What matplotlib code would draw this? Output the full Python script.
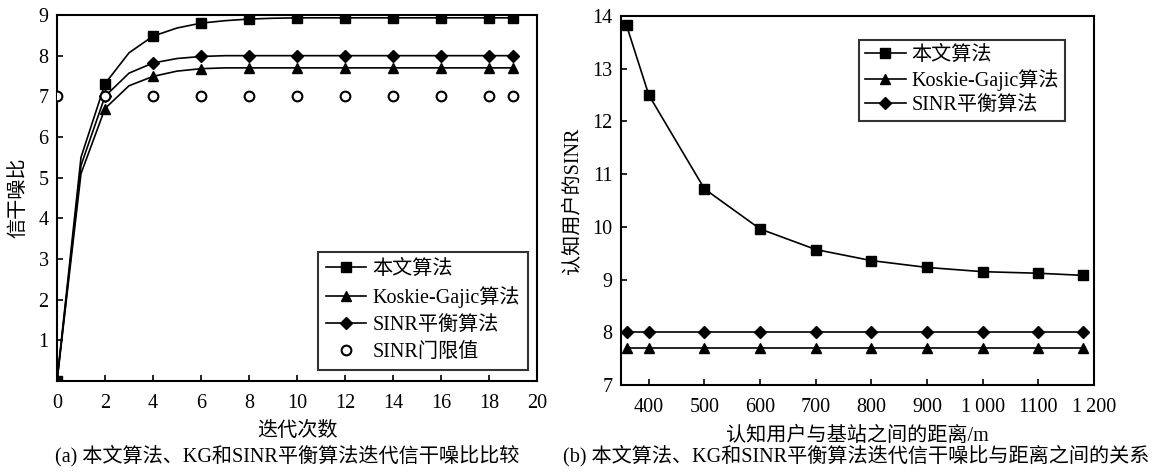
import matplotlib
matplotlib.use("Agg")
import matplotlib.pyplot as plt

plt.rcParams["font.family"] = ["Liberation Serif", "Noto Sans CJK SC", "DejaVu Sans"]
plt.rcParams["axes.unicode_minus"] = False

# (a) iteration comparison
iters = list(range(20))
ours_iter = [0.0, 5.5, 7.31, 8.07, 8.48, 8.68, 8.8, 8.86, 8.9, 8.92,
             8.93, 8.93, 8.93, 8.93, 8.93, 8.93, 8.93, 8.93, 8.93, 8.93]
kg_iter = [0.0, 5.1, 6.7, 7.26, 7.49, 7.62, 7.68, 7.7, 7.7, 7.7,
           7.7, 7.7, 7.7, 7.7, 7.7, 7.7, 7.7, 7.7, 7.7, 7.7]
bal_iter = [0.0, 5.3, 7.0, 7.57, 7.82, 7.93, 7.98, 8.0, 8.0, 8.0,
            8.0, 8.0, 8.0, 8.0, 8.0, 8.0, 8.0, 8.0, 8.0, 8.0]
thr_x = [0, 2, 4, 6, 8, 10, 12, 14, 16, 18, 19]
thr_y = [7, 7, 7, 7, 7, 7, 7, 7, 7, 7, 7]
mark_idx = [0, 2, 4, 6, 8, 10, 12, 14, 16, 18, 19]

# (b) distance comparison
dist = [360, 400, 500, 600, 700, 800, 900, 1000, 1100, 1180]
ours_dist = [13.82, 12.5, 10.72, 9.96, 9.57, 9.36, 9.23, 9.15, 9.12, 9.08]
kg_dist = [7.7] * len(dist)
bal_dist = [8.0] * len(dist)
dist_ticks = [400, 500, 600, 700, 800, 900, 1000, 1100, 1200]
dist_labels = ["400", "500", "600", "700", "800", "900", "1\u2009000", "1100", "1\u2009200"]

names = ["本文算法", "Koskie-Gajic算法", "SINR平衡算法", "SINR门限值"]

fig = plt.figure(figsize=(11.54, 4.74), dpi=100)
ax1 = fig.add_axes([57 / 1154, 93 / 474, 480 / 1154, 366 / 474])
ax2 = fig.add_axes([621 / 1154, 89 / 474, 473 / 1154, 369 / 474])

line_kw = dict(color="black", linewidth=1.2, markerfacecolor="black", markeredgecolor="black")

ax1.plot(iters, ours_iter, marker="s", markersize=7, markevery=mark_idx, label=names[0], **line_kw)
ax1.plot(iters, kg_iter, marker="^", markersize=7.5, markevery=mark_idx, label=names[1], **line_kw)
ax1.plot(iters, bal_iter, marker="D", markersize=6, markevery=mark_idx, label=names[2], **line_kw)
ax1.plot(thr_x, thr_y, linestyle="none", marker="o", markersize=7, markerfacecolor="white",
         markeredgecolor="black", markeredgewidth=1.5, label=names[3], zorder=5)
ax1.set_xlim(0, 20)
ax1.set_ylim(0, 9)
ax1.set_xticks(range(0, 21, 2))
ax1.set_yticks(range(1, 10))
ax1.set_xlabel("迭代次数", fontsize=14.5, labelpad=7)
ax1.set_ylabel("信干噪比", fontsize=14.5, labelpad=7)

ax2.plot(dist, ours_dist, marker="s", markersize=7, label=names[0], **line_kw)
ax2.plot(dist, kg_dist, marker="^", markersize=7.5, label=names[1], **line_kw)
ax2.plot(dist, bal_dist, marker="D", markersize=6, label=names[2], **line_kw)
ax2.set_xlim(350, 1200)
ax2.set_ylim(7, 14)
ax2.set_xticks(dist_ticks)
ax2.set_xticklabels(dist_labels)
ax2.set_yticks(range(7, 15))
ax2.set_xlabel("认知用户与基站之间的距离/m", fontsize=14.5, labelpad=7)
ax2.set_ylabel("认知用户的SINR", fontsize=14.5, labelpad=7)

for ax in (ax1, ax2):
    for sp in ax.spines.values():
        sp.set_linewidth(1.5)
    ax.tick_params(direction="in", length=4, width=1.2, labelsize=14.5, top=False, right=False)
    ax.tick_params(axis="x", pad=9)
    ax.tick_params(axis="y", pad=6)

leg_kw = dict(fontsize=14.5, frameon=True, fancybox=False, edgecolor="black", handlelength=2.0,
              handletextpad=0.3, borderaxespad=0)
leg1 = ax1.legend(loc="lower right", bbox_to_anchor=(0.981, 0.03),
                  labelspacing=0.38, borderpad=0.4, **leg_kw)
leg2 = ax2.legend(loc="upper right", bbox_to_anchor=(0.939, 0.935),
                  labelspacing=0.22, borderpad=0.3, **leg_kw)
for leg in (leg1, leg2):
    leg.get_frame().set_linewidth(1.5)

fig.text(287 / 1154, 1 - 456 / 474, "(a) 本文算法、KG和SINR平衡算法迭代信干噪比比较",
         ha="center", va="center", fontsize=14.5)
fig.text(856 / 1154, 1 - 456 / 474, "(b) 本文算法、KG和SINR平衡算法迭代信干噪比与距离之间的关系",
         ha="center", va="center", fontsize=14.5)

fig.savefig("out.png", dpi=100)
